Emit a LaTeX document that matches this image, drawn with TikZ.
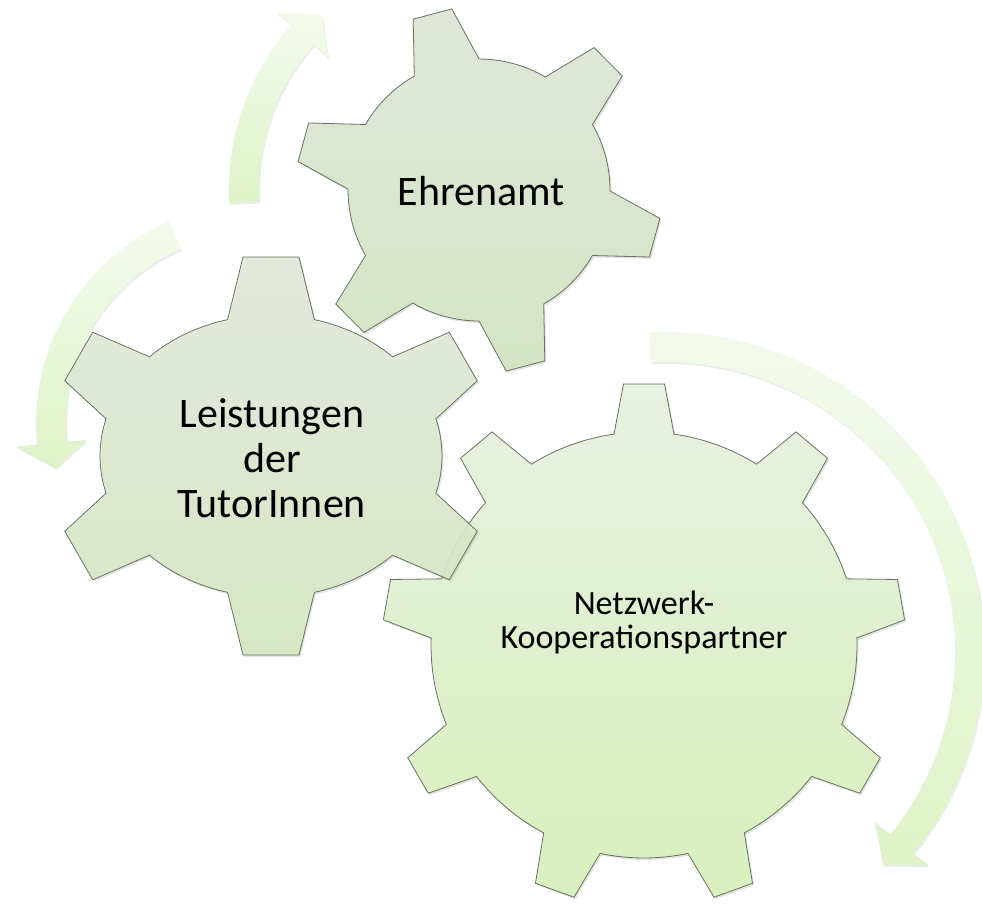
\documentclass[tikz,border=0pt]{standalone}
\usepackage{fontspec}
\newfontfamily\gearfont{Carlito}
\usepackage{tikz}
\usetikzlibrary{shadows}
\usepackage{xcolor}
\definecolor{gearedge}{RGB}{104,114,96}
\definecolor{smalltop}{RGB}{224,231,216}
\definecolor{smallbottom}{RGB}{213,228,197}
\definecolor{midtop}{RGB}{227,233,219}
\definecolor{midbottom}{RGB}{214,232,194}
\definecolor{bigtop}{RGB}{232,240,224}
\definecolor{bigbottom}{RGB}{216,240,190}
\definecolor{arrowpale}{RGB}{244,250,236}
\definecolor{arrowgreen}{RGB}{222,243,200}

% gear outline: teeth, first tooth angle, body x/y radius, tip x/y radius, base half angle, tip half width
\newcommand{\gearpath}[8]{%
  ({#3*cos(#2-#7)},{#4*sin(#2-#7)})
  \foreach \k [evaluate=\k as \t using #2+(\k-1)*360/#1,
               evaluate=\k as \ta using #2+(\k-1)*360/#1+#7,
               evaluate=\k as \tb using #2+\k*360/#1-#7] in {1,...,#1} {
    -- ({#5*cos(\t)+#8*sin(\t)},{#6*sin(\t)-#8*cos(\t)})
    -- ({#5*cos(\t)-#8*sin(\t)},{#6*sin(\t)+#8*cos(\t)})
    -- ({#3*cos(\ta)},{#4*sin(\ta)})
    arc[start angle=\ta, end angle=\tb, x radius=#3, y radius=#4]
  } -- cycle}

\begin{document}
\begin{tikzpicture}[x=1pt,y=1pt,
  gear/.style={draw=gearedge,line width=0.8pt,
    drop shadow={shadow xshift=1.5pt,shadow yshift=-2pt,opacity=0.22}},
  arrowband/.style={top color=arrowpale,bottom color=arrowgreen,
    drop shadow={shadow xshift=1pt,shadow yshift=-2pt,opacity=0.15}},
  gearlabel/.style={align=center,text=black,inner sep=0pt}]
\useasboundingbox (0,0) rectangle (982,903);

% ARROWS round the gears
\begin{scope}[shift={(479,713)}]
\path[arrowband] (183:250) arc[start angle=183,end angle=138.6,radius=250]
  -- (138.6:269) -- (131.9:235) -- (138.6:201) -- (138.6:220)
  arc[start angle=138.6,end angle=183,radius=220] -- cycle;
\end{scope}
\begin{scope}[shift={(256,479.5)}]
\path[arrowband] (113.3:220) arc[start angle=113.3,end angle=185.5,radius=220]
  -- (185.5:241) -- (192.5:205) -- (185.5:170) -- (185.5:190)
  arc[start angle=185.5,end angle=113.3,radius=190] -- cycle;
\end{scope}
\begin{scope}[shift={(665,251)}]
\path[arrowband] (92.8:320) arc[start angle=92.8,end angle=-39,radius=320]
  -- (-39:339) -- (-44.3:305) -- (-39:270) -- (-39:290)
  arc[start angle=-39,end angle=92.8,radius=290] -- cycle;
\end{scope}

% LARGE gear: 9 teeth
\begin{scope}[shift={(644,258)}]
\path[gear,top color=bigtop,bottom color=bigbottom]
  \gearpath{9}{90}{213}{213}{261}{261}{8.1}{20.5};
\end{scope}
\node[gearlabel,font=\gearfont\fontsize{34}{34}\selectfont] (netzwerk) at (644,281)
  {Netzwerk-\\Kooperationspartner};

% SMALL gear: 6 teeth
\begin{scope}[shift={(479,713)}]
\path[gear,top color=smalltop,bottom color=smallbottom]
  \gearpath{6}{44.8}{131}{131}{182}{182}{14.8}{20};
\end{scope}
\node[gearlabel,font=\gearfont\fontsize{42}{45}\selectfont] (ehrenamt) at (481,712)
  {Ehrenamt};

% MEDIUM gear: 6 teeth, slightly wide
\begin{scope}[shift={(271,447)}]
\path[gear,top color=midtop,bottom color=midbottom,fill opacity=0.9]
  \gearpath{6}{30}{171}{141}{222}{199}{14.7}{28};
\end{scope}
\node[gearlabel,font=\gearfont\fontsize{42}{45}\selectfont] (leistungen) at (272,445)
  {Leistungen\\der\\TutorInnen};

\end{tikzpicture}
\end{document}
